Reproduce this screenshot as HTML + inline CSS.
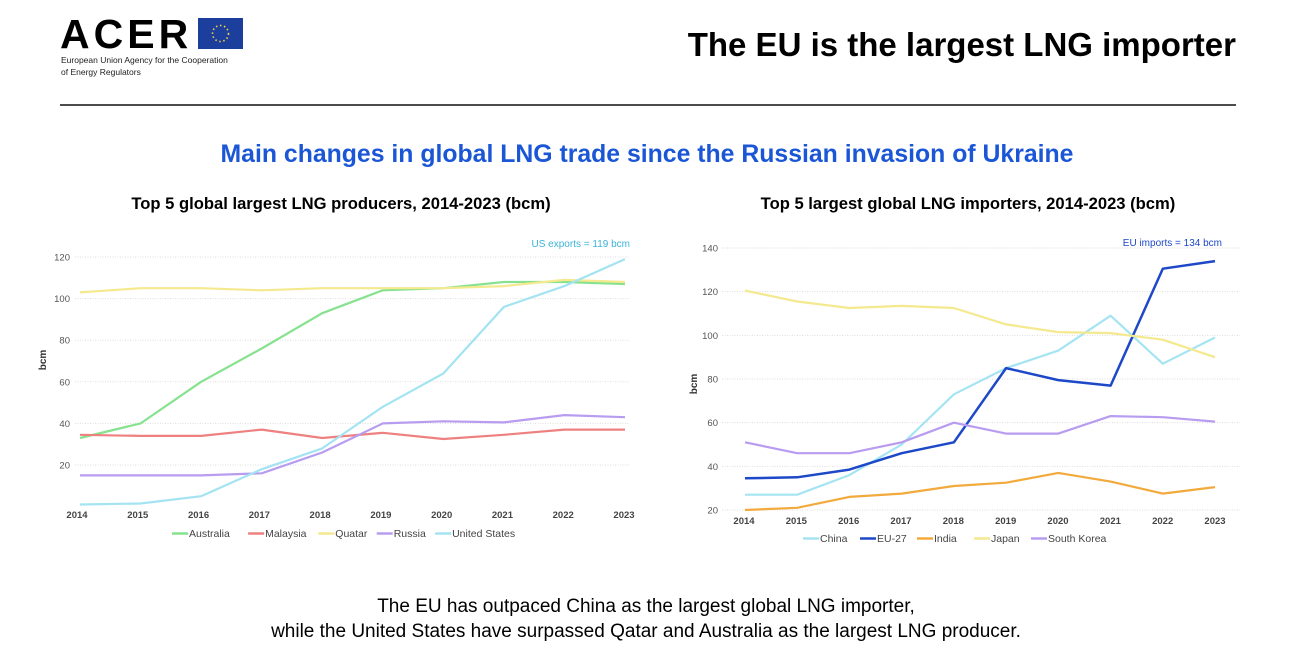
<!DOCTYPE html>
<html><head><meta charset="utf-8">
<style>
html,body{margin:0;padding:0;background:#fff;}
body{width:1292px;height:657px;overflow:hidden;font-family:"Liberation Sans",sans-serif;}
svg text{font-family:"Liberation Sans",sans-serif;}
</style></head>
<body>
<svg id="s" width="1292" height="657" viewBox="0 0 1292 657" xmlns="http://www.w3.org/2000/svg">
<g>
<text x="60" y="48" font-size="41" font-weight="bold" fill="#000" letter-spacing="4">ACER</text>
<rect x="198" y="18" width="45" height="31" fill="#1c3f9e"/>
<circle cx="220.5" cy="33.5" r="8" fill="none" stroke="#f4d03f" stroke-width="1.6" stroke-dasharray="1.5 2.6"/>
<text x="61" y="63" font-size="8.5" fill="#222">European Union Agency for the Cooperation</text>
<text x="61" y="75" font-size="8.5" fill="#222">of Energy Regulators</text>
</g>
<text x="1236" y="56" text-anchor="end" font-size="33" font-weight="bold" fill="#000">The EU is the largest LNG importer</text>
<line x1="60" y1="105" x2="1236" y2="105" stroke="#111" stroke-width="1.5"/>
<text x="647" y="162" text-anchor="middle" font-size="24.8" font-weight="bold" fill="#1a56d6">Main changes in global LNG trade since the Russian invasion of Ukraine</text>
<text x="341" y="209" text-anchor="middle" font-size="16.6" font-weight="bold" fill="#000">Top 5 global largest LNG producers, 2014-2023 (bcm)</text>
<text x="968" y="209" text-anchor="middle" font-size="16.6" font-weight="bold" fill="#000">Top 5 largest global LNG importers, 2014-2023 (bcm)</text>
<g id="left"></g>
<g id="right"></g>
<text x="646" y="612" text-anchor="middle" font-size="19" fill="#000">The EU has outpaced China as the largest global LNG importer,</text>
<text x="646" y="637" text-anchor="middle" font-size="19" fill="#000">while the United States have surpassed Qatar and Australia as the largest LNG producer.</text>
</svg>
<script>
const years = [2014,2015,2016,2017,2018,2019,2020,2021,2022,2023];
const prodNames = ["Australia","Malaysia","Quatar","Russia","United States"];
const australia = [33,40,60,76,93,104,105,108,108,107];
const malaysia = [34.5,34,34,37,33,35.5,32.5,34.5,37,37];
const qatar = [103,105,105,104,105,105,105,106,109,108];
const russia = [15,15,15,16,26,40,41,40.5,44,43];
const unitedStates = [1,1.5,5,18,28,48,64,96,106,119];
const prodTicks = [20,40,60,80,100,120];
const impNames = ["China","EU-27","India","Japan","South Korea"];
const china = [27,27,36,50,73,85,93,109,87,99];
const eu27 = [34.5,35,38.5,46,51,85,79.5,77,130.5,134];
const india = [20,21,26,27.5,31,32.5,37,33,27.5,30.5];
const japan = [120.5,115.5,112.5,113.5,112.5,105,101.5,101,98,90];
const southKorea = [51,46,46,51,60,55,55,63,62.5,60.5];
const impTicks = [20,40,60,80,100,120,140];

const NS="http://www.w3.org/2000/svg";
function mk(parent,tag,attrs,text){const e=document.createElementNS(NS,tag);for(const k in attrs)e.setAttribute(k,attrs[k]);if(text!==undefined)e.textContent=text;parent.appendChild(e);return e;}

function chart(g,cfg){
  const xs=i=>cfg.x0+(cfg.x1-cfg.x0)*i/(years.length-1);
  const ys=v=>cfg.yA+(v-cfg.vA)*(cfg.yB-cfg.yA)/(cfg.vB-cfg.vA);
  cfg.ticks.forEach(t=>{
    const l=mk(g,'line',{x1:cfg.gx0,x2:cfg.gx1,y1:ys(t),y2:ys(t),stroke:'#ddd','stroke-width':1,'stroke-dasharray':'1 1.5'});
    
    
    const tx=mk(g,'text',{x:cfg.lx,y:ys(t)+3.5,'text-anchor':'end','font-size':9.5,fill:'#555'},String(t));
    
    
  });
  years.forEach((y,i)=>{
    const tx=mk(g,'text',{x:cfg.lx0+(cfg.lx1-cfg.lx0)*i/(years.length-1),y:cfg.xly,'text-anchor':'middle','font-size':9.5,'font-weight':'bold',fill:'#444'},String(y));
    
    
  });
  const yt=mk(g,'text',{x:0,y:0,'font-size':10,'font-weight':'bold',fill:'#333','text-anchor':'middle',transform:`translate(${cfg.ytx},${cfg.yty}) rotate(-90)`},'bcm');
  
  
  cfg.series.forEach((s,k)=>{
    const pts=s.data.map((v,i)=>xs(i).toFixed(1)+','+ys(v).toFixed(1)).join(' ');
    const p=mk(g,'polyline',{points:pts,fill:'none',stroke:s.color,'stroke-width':s.w||2.2,'stroke-linejoin':'round'});
    
    
  });
  let lx=cfg.legX;
  cfg.series.forEach(s=>{
    const lg=mk(g,'g',{});
    
    
    mk(lg,'line',{x1:lx,x2:lx+16,y1:cfg.legY-3.5,y2:cfg.legY-3.5,stroke:s.color,'stroke-width':s.w||2.5});
    mk(lg,'text',{x:lx+17,y:cfg.legY,'font-size':10.5,fill:'#444'},s.name);
    lx+=17+s.name.length*cfg.cw+cfg.gap;
  });
  const a=mk(g,'text',{x:cfg.annX,y:cfg.annY,'text-anchor':'end','font-size':10,fill:cfg.annColor},cfg.ann);
  
  
}
chart(document.getElementById('left'),{
  x0:80,x1:625,yA:257,vA:120,yB:465,vB:20,gx0:75,gx1:630,lx:70,xly:518,lx0:77,lx1:624,ytx:46,yty:360,
  ticks:prodTicks,legX:172,legY:537,cw:5.9,gap:6,
  ann:'US exports = 119 bcm',annX:630,annY:247,annColor:'#3bb4d8',
  series:[{name:prodNames[0],data:australia,color:'#86e28e'},{name:prodNames[1],data:malaysia,color:'#ee8080'},
  {name:prodNames[2],data:qatar,color:'#f4e98e'},{name:prodNames[3],data:russia,color:'#b89cf0'},
  {name:prodNames[4],data:unitedStates,color:'#a3e3f2'}]
});
chart(document.getElementById('right'),{
  x0:745,x1:1215,yA:248,vA:140,yB:510,vB:20,gx0:722,gx1:1240,lx:718,xly:524,lx0:744,lx1:1215,ytx:697,yty:384,
  ticks:impTicks,legX:803,legY:542,cw:6,gap:10,
  ann:'EU imports = 134 bcm',annX:1222,annY:246,annColor:'#1d48c8',
  series:[{name:impNames[0],data:china,color:'#a5e4f2'},{name:impNames[1],data:eu27,color:'#1d48c8',w:2.5},
  {name:impNames[2],data:india,color:'#f2aa3c'},{name:impNames[3],data:japan,color:'#f4e98e'},
  {name:impNames[4],data:southKorea,color:'#b89cf0'}]
});
</script>
</body></html>
